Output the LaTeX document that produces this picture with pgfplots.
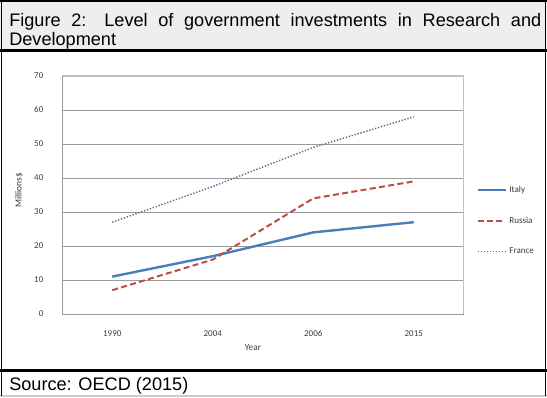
\documentclass[border=0pt]{standalone}
\usepackage{pgfplots}
\pgfplotsset{compat=1.18}
\usepackage{fontspec}
\setmainfont{Liberation Sans}
\newfontfamily\chartfont{Carlito}

\definecolor{italyblue}{HTML}{4A7EBB}
\definecolor{russiared}{HTML}{BE4B48}
\definecolor{francepurple}{HTML}{6E6390}
\definecolor{bandgray}{HTML}{EEEEEE}
\definecolor{framegray}{HTML}{B9C2D0}
\definecolor{gridgray}{HTML}{9A9A9A}
\definecolor{labelgray}{HTML}{3A3A3A}

\begin{document}
\begin{tikzpicture}[x=0.75pt,y=0.75pt]
\useasboundingbox (0,0) rectangle (547,398);

% title band
\fill[bandgray] (0,346) rectangle (547,398);
\draw[line width=1.9pt] (0,397) -- (547,397);
\draw[line width=2.2pt] (0,347.2) -- (547,347.2);
% source band
\draw[line width=1.8pt] (0,27.5) -- (547,27.5);
\draw[gray!40, line width=0.8pt] (0,2) -- (547,2);
% side borders
\draw[line width=1.1pt] (1.5,398) -- (1.5,2);
\draw[line width=0.9pt] (545.6,398) -- (545.6,2);

% title and source
\node[anchor=base west, inner sep=0pt, font=\fontsize{13.6pt}{15pt}\selectfont]
  at (9,371.3) {\makebox[399pt][s]{Figure 2: Level of government investments in Research and}};
\node[anchor=base west, inner sep=0pt, font=\fontsize{13.6pt}{15pt}\selectfont]
  at (9,352.3) {Development};
\node[anchor=base west, inner sep=0pt, font=\fontsize{13.6pt}{15pt}\selectfont]
  at (9,7.3) {Source: OECD (2015)};

\begin{axis}[
  at={(46.5pt,63pt)}, anchor=south west,
  scale only axis, width=301.5pt, height=178.5pt,
  xmin=-0.5, xmax=3.5, ymin=0, ymax=70,
  xtick={0,1,2,3}, xticklabels={1990,2004,2006,2015},
  ytick={0,10,...,70},
  /pgf/number format/assume math mode=true,
  major tick length=0pt,
  axis line style={draw=none},
  ymajorgrids, grid style={gridgray, line width=0.6pt},
  tick label style={font=\chartfont\fontsize{6.7pt}{7pt}\selectfont, text=labelgray},
  xticklabel style={yshift=-9pt},
  yticklabel style={xshift=-10.5pt},
  xlabel={Year}, ylabel={Millions\$},
  label style={font=\chartfont\fontsize{7pt}{7pt}\selectfont, text=labelgray},
  xlabel style={at={(axis description cs:0.475,0)}, anchor=center, yshift=-25.5pt},
  ylabel style={at={(axis description cs:-0.107,0.52)}, anchor=center, rotate=0},
  legend style={at={(1.03,0.392)}, anchor=west, draw=none, fill=none,
    inner sep=0pt, row sep=13pt,
    font=\chartfont\fontsize{6.8pt}{7pt}\selectfont, text=labelgray},
  legend cell align=left,
  legend image code/.code={\draw[#1] (0pt,0pt) -- (21pt,0pt);},
]
\addplot[italyblue, line width=1.8pt] coordinates {(0,11) (1,17) (2,24) (3,27)};
\addlegendentry{Italy}
\addplot[russiared, line width=1.5pt, dash pattern=on 4.5pt off 2.5pt] coordinates {(0,7) (1,16) (2,34) (3,39)};
\addlegendentry{Russia}
\addplot[francepurple, line width=1.1pt, dash pattern=on 1pt off 1.3pt] coordinates {(0,27) (1,37.5) (2,49) (3,58)};
\addlegendentry{France}
% plot area frame
\draw[framegray, line width=0.8pt] (rel axis cs:0,1) -- (rel axis cs:1,1) -- (rel axis cs:1,0);
\draw[gridgray, line width=0.6pt] (rel axis cs:0,1) -- (rel axis cs:0,0) -- (rel axis cs:1,0);
\end{axis}
\end{tikzpicture}
\end{document}
